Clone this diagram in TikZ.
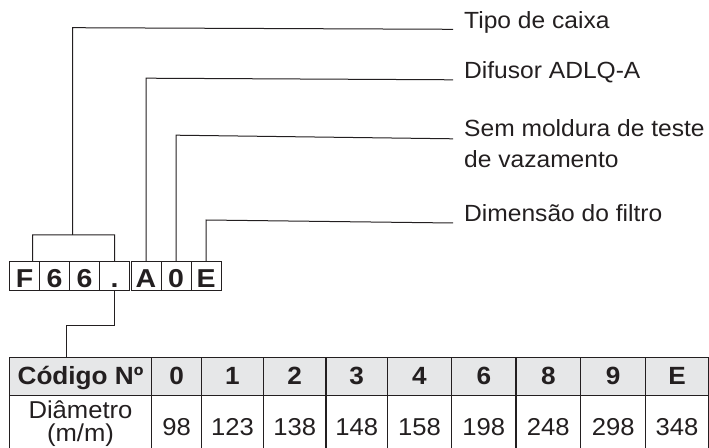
\documentclass[tikz,border=0pt]{standalone}
\usepackage{fontspec}
\setmainfont{Liberation Sans}[FakeStretch=1.05]
\newfontfamily\codefont{Liberation Sans}[FakeStretch=1.1]
\definecolor{ink}{HTML}{231F20}
\definecolor{hdrfill}{HTML}{E6E7E8}
\begin{document}
\begin{tikzpicture}[x=1bp,y=-1bp,
  conn/.style={draw=ink, line width=1bp},
  codebox/.style={draw=ink, line width=1bp, minimum width=30bp, minimum height=28.7bp,
    inner sep=0pt, text=ink, font=\codefont\fontsize{26}{28}\selectfont\bfseries,
    text height=22bp, text depth=0.2bp},
  lbl/.style={anchor=base west, inner sep=0pt, text=ink, font=\fontsize{23.5}{25}\selectfont},
  hcell/.style={draw=ink, line width=1.2bp, fill=hdrfill, minimum height=37.5bp, inner sep=0pt,
    text=ink, font=\fontsize{25}{26}\selectfont\bfseries, text height=18bp, text depth=2bp},
  bcell/.style={draw=ink, line width=1.2bp, minimum height=62bp, inner sep=0pt,
    text=ink, font=\fontsize{24.5}{26}\selectfont, text height=18bp, text depth=0bp},
  btxt/.style={anchor=base, inner sep=0pt, text=ink, font=\fontsize{24.5}{26}\selectfont}
]
\useasboundingbox (0,0) rectangle (709,448);

% code boxes
\node[codebox] (cF) at (24.5,276.35) {F};
\node[codebox] (c6a) at (54.5,276.35) {6};
\node[codebox] (c6b) at (84.5,276.35) {6};
\node[codebox] (cdot) at (114.5,276.35) {.};
\node[codebox] (cA) at (146,276.35) {A};
\node[codebox] (c0) at (176,276.35) {0};
\node[codebox] (cE) at (206,276.35) {E};

% labels
\node[lbl] (l1) at (464,28.5) {Tipo de caixa};
\node[lbl] (l2) at (464,79) {Difusor ADLQ-A};
\node[lbl] (l3) at (464,137) {Sem moldura de teste};
\node[lbl] (l3b) at (464,168) {de vazamento};
\node[lbl] (l4) at (464,221.5) {Dimensão do filtro};

% connectors
\coordinate (bl) at (32.5,235);
\coordinate (bm) at (72.7,235);
\draw[conn] ([xshift=8bp]cF.north) -- (bl) -- (cdot.north |- bl) -- (cdot.north);
\draw[conn] (bm) -- (72.7,27.7) -- ([xshift=-11bp,yshift=-0.8bp]l1.base west);
\draw[conn] (cA.north) -- (cA.north |- 0,78.2) -- ([xshift=-11bp,yshift=-0.8bp]l2.base west);
\draw[conn] (c0.north) -- (c0.north |- 0,135.2) -- ([xshift=-11bp,yshift=-1.8bp]l3.base west);
\draw[conn] (cE.north) -- (cE.north |- 0,220) -- ([xshift=-11bp,yshift=-1.5bp]l4.base west);

% table
\node[hcell, minimum width=142.4bp] (hc) at (80.5,376.5) {Código Nº};
\node[bcell, minimum width=142.4bp] (bc) at (80.5,426.2) {};
\node[btxt] (bct1) at (80.5,418) {Diâmetro};
\node[btxt] (bct2) at (80.5,441) {(m/m)};
\foreach \n/\l/\xl/\xr/\v in {1/0/151.7/201.7/98, 2/1/201.7/263.3/123, 3/2/263.3/326/138,
  4/3/326/387.3/148, 5/4/387.3/451.7/158, 6/6/451.7/516/198, 7/8/516/580.7/248,
  8/9/580.7/645.7/298, 9/E/645.7/708.4/348}{
  \pgfmathsetmacro{\w}{\xr-\xl}
  \pgfmathsetmacro{\cx}{(\xr+\xl)/2}
  \node[hcell, minimum width=\w bp] (h\n) at (\cx,376.5) {\l};
  \node[bcell, minimum width=\w bp] (b\n) at (\cx,426.2) {\v};
}

\coordinate (tb) at (66.7,325);
\draw[conn] (cdot.south) -- (cdot.south |- tb) -- (tb) -- (tb |- hc.north);
\end{tikzpicture}
\end{document}
